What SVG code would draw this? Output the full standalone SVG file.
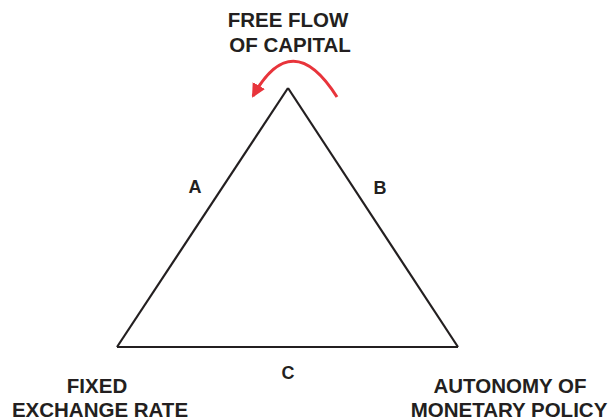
<svg xmlns="http://www.w3.org/2000/svg" width="613" height="420" viewBox="0 0 613 420">
<style>
.t{font-family:"Liberation Sans",Arial,sans-serif;font-weight:bold;fill:#231f20;text-anchor:middle}
.big{font-size:20.5px}
.lbl{font-size:18px}
.edge{fill:none;stroke:#231f20;stroke-width:2.2;stroke-linejoin:miter}
</style>
<defs>
<marker id="ah" markerUnits="userSpaceOnUse" markerWidth="16" markerHeight="16" refX="12" refY="7" orient="auto">
<path d="M0,0 L14,7 L0,14 Z" fill="#e8343b"/>
</marker>
</defs>
<rect width="613" height="420" fill="#ffffff"/>
<g id="connectors">
<path id="edge-A" class="edge" d="M117,347 L288,88"/>
<path id="edge-B" class="edge" d="M288,88 L458,347"/>
<path id="edge-C" class="edge" d="M117,347 L458,347"/>
<path id="flow-arrow" d="M337,97 Q292,26 253,96" fill="none" stroke="#e8343b" stroke-width="3" marker-end="url(#ah)"/>
</g>
<g id="node-capital">
<text class="t big" x="288" y="27">FREE FLOW</text>
<text class="t big" x="290" y="52">OF CAPITAL</text>
</g>
<g id="node-fixed">
<text class="t big" x="97" y="393">FIXED</text>
<text class="t big" x="100" y="417">EXCHANGE RATE</text>
</g>
<g id="node-autonomy">
<text class="t big" x="510" y="393">AUTONOMY OF</text>
<text class="t big" x="509" y="417">MONETARY POLICY</text>
</g>
<g id="labels">
<text class="t lbl" x="195" y="193">A</text>
<text class="t lbl" x="380" y="194">B</text>
<text class="t lbl" x="288" y="379">C</text>
</g>
</svg>
